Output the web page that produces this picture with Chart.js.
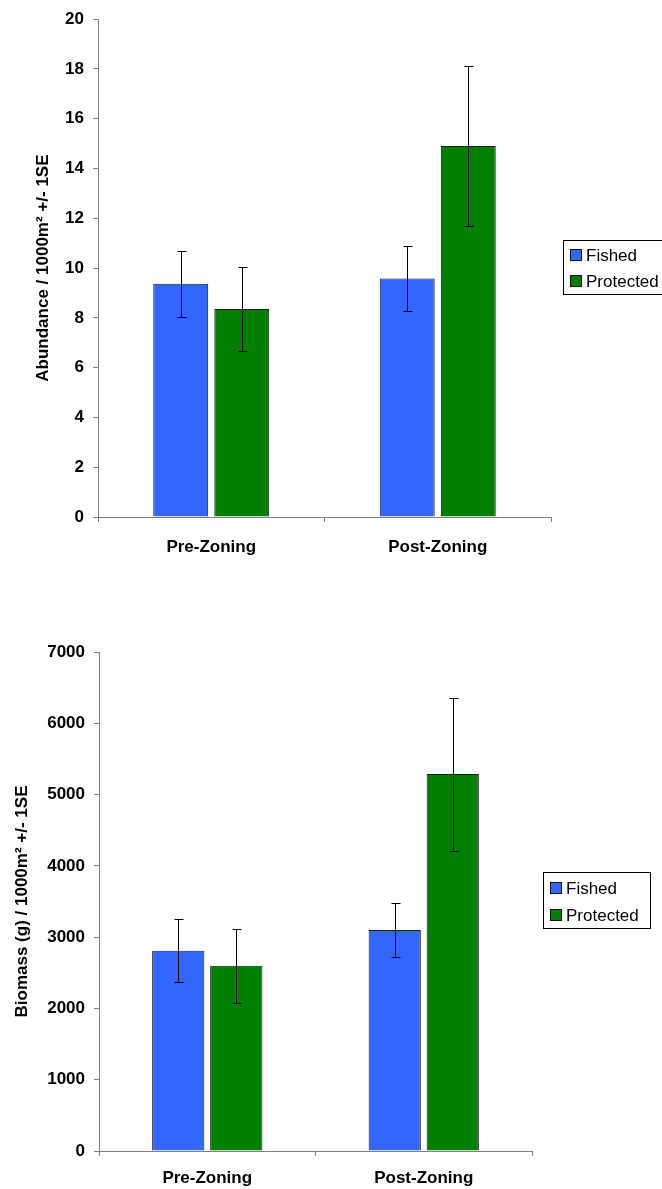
<!DOCTYPE html>
<html><head><meta charset="utf-8">
<script src="https://cdn.jsdelivr.net/npm/chart.js@4/dist/chart.umd.min.js"></script>
<style>
html,body{margin:0;padding:0;background:#fff;}
#c1{position:absolute;left:0;top:0;}
#c2{position:absolute;left:0;top:600px;}
</style></head><body>
<canvas id="c1" width="662" height="590"></canvas>
<canvas id="c2" width="662" height="589"></canvas>
<script>
const categories = ['Pre-Zoning', 'Post-Zoning'];
const seriesNames = ['Fished', 'Protected'];
const abundanceFished = [9.37, 9.58];
const abundanceProtected = [8.36, 14.91];
const abundanceFishedSE = [1.33, 1.31];
const abundanceProtectedSE = [1.70, 3.22];
const abundanceTicks = [0, 20, 2];
const biomassFished = [2810, 3100];
const biomassProtected = [2600, 5288];
const biomassFishedSE = [442, 380];
const biomassProtectedSE = [518, 1073];
const biomassTicks = [0, 7000, 1000];
const abundanceTitle = 'Abundance / 1000m\u00B2 +/- 1SE';
const biomassTitle = 'Biomass (g) / 1000m\u00B2 +/- 1SE';

const FONT = '"Liberation Sans", Arial, sans-serif';
const AXIS = '#808080';

const errorBars = {
  id: 'errorBars',
  afterDatasetsDraw(chart) {
    const ctx = chart.ctx, y = chart.scales.y;
    ctx.save();
    ctx.strokeStyle = '#000';
    ctx.lineWidth = 1;
    chart.data.datasets.forEach((ds, i) => {
      const meta = chart.getDatasetMeta(i);
      meta.data.forEach((bar, j) => {
        const v = ds.data[j], e = ds.errors[j];
        const x = Math.round(bar.x) + 0.5;
        const yt = Math.round(y.getPixelForValue(v + e)) + 0.5;
        const yb = Math.round(y.getPixelForValue(v - e)) + 0.5;
        ctx.beginPath();
        ctx.moveTo(x, yt); ctx.lineTo(x, yb);
        ctx.moveTo(x - 4, yt); ctx.lineTo(x + 5, yt);
        ctx.moveTo(x - 4, yb); ctx.lineTo(x + 5, yb);
        ctx.stroke();
      });
    });
    ctx.restore();
  }
};

const boxLegend = {
  id: 'boxLegend',
  afterDraw(chart, args, o) {
    const ctx = chart.ctx;
    ctx.save();
    ctx.fillStyle = '#fff';
    ctx.fillRect(o.x, o.y, o.w, o.h);
    ctx.strokeStyle = '#000';
    ctx.lineWidth = 1;
    ctx.strokeRect(o.x + 0.5, o.y + 0.5, o.w, o.h);
    ctx.font = '17px ' + FONT;
    ctx.textBaseline = 'middle';
    ctx.textAlign = 'left';
    chart.data.datasets.forEach((ds, i) => {
      const cy = Math.round(o.y + o.first + i * o.gap);
      ctx.fillStyle = ds.backgroundColor;
      ctx.fillRect(o.x + 7, cy - 6, 12, 12);
      ctx.strokeStyle = '#111';
      ctx.strokeRect(o.x + 7.5, cy - 5.5, 11, 11);
      ctx.fillStyle = '#000';
      ctx.fillText(ds.label, o.x + 23, cy + 1);
    });
    ctx.restore();
  }
};

function makeChart(id, fished, prot, fSE, pSE, ticks, title, g) {
  const bold = { family: FONT, size: 17, weight: 'bold' };
  return new Chart(document.getElementById(id), {
    type: 'bar',
    data: {
      labels: categories,
      datasets: [
        { label: seriesNames[0], data: fished, errors: fSE, backgroundColor: '#3366FF',
          borderColor: '#1a1a1a', borderWidth: 1, barPercentage: 0.9, categoryPercentage: g.cat },
        { label: seriesNames[1], data: prot, errors: pSE, backgroundColor: '#008000',
          borderColor: '#1a1a1a', borderWidth: 1, barPercentage: 0.9, categoryPercentage: g.cat }
      ]
    },
    options: {
      responsive: false,
      animation: false,
      events: [],
      layout: { padding: { left: 0, right: g.right, top: g.top, bottom: 0 } },
      plugins: { legend: { display: false }, tooltip: { enabled: false }, boxLegend: g.legend },
      scales: {
        x: {
          grid: { display: true, drawOnChartArea: false, drawTicks: true, tickLength: 5, color: AXIS, offset: true },
          border: { display: true, color: AXIS },
          ticks: { font: bold, color: '#000', padding: g.xpad, maxRotation: 0 },
          afterFit(s) { s.height = g.xh; }
        },
        y: {
          min: ticks[0], max: ticks[1],
          ticks: { stepSize: ticks[2], font: bold, color: '#000', padding: 9,
                   callback: (v) => String(v) },
          grid: { display: true, drawOnChartArea: false, drawTicks: true, tickLength: 5, color: AXIS },
          border: { display: true, color: AXIS },
          title: { display: true, text: title, font: bold, color: '#000', padding: { top: g.tpad, bottom: 0 } },
          afterFit(s) { s.width = g.yw; }
        }
      }
    },
    plugins: [errorBars, boxLegend]
  });
}

makeChart('c1', abundanceFished, abundanceProtected, abundanceFishedSE, abundanceProtectedSE,
  abundanceTicks, abundanceTitle,
  { cat: 0.539, right: 111, top: 19, yw: 98, xh: 73, xpad: 15, tpad: 33,
    legend: { x: 563, y: 240, w: 110, h: 54, first: 15, gap: 26 } });

makeChart('c2', biomassFished, biomassProtected, biomassFishedSE, biomassProtectedSE,
  biomassTicks, biomassTitle,
  { cat: 0.536, right: 130, top: 52, yw: 99, xh: 38, xpad: 12, tpad: 12,
    legend: { x: 543, y: 272, w: 107, h: 56, first: 16, gap: 27 } });
</script>
</body></html>
